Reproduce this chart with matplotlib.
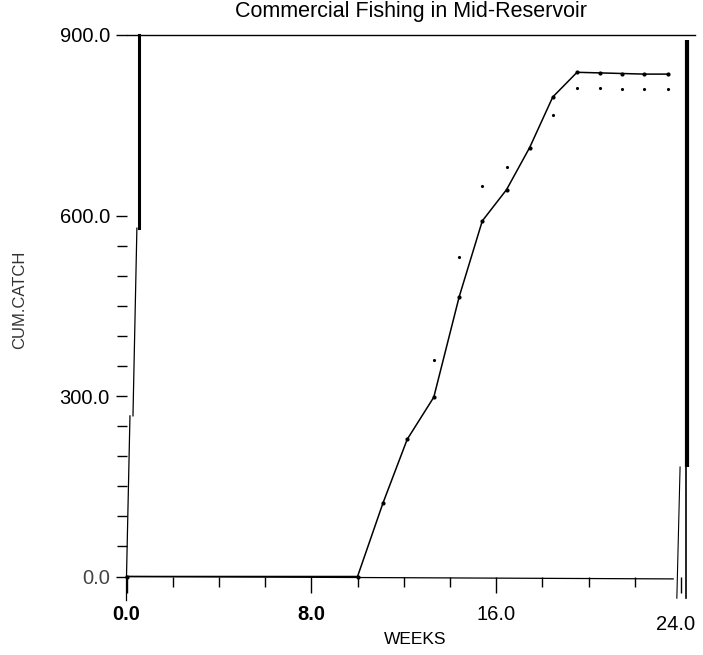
import numpy as np
import matplotlib
matplotlib.use("Agg")
import matplotlib.pyplot as plt
import matplotlib.transforms as mtransforms

plt.rcParams['font.family'] = ['Liberation Sans', 'DejaVu Sans']

# data
weeks_model = [0, 10.0, 11.1, 12.15, 13.3, 14.4, 15.4, 16.45, 17.45, 18.45, 19.5, 20.5, 21.45, 22.4, 23.45]
catch_model = [0, 0, 122, 228, 298, 465, 591, 643, 713, 797, 838, 837, 836, 835, 835]

weeks_obs = [13.3, 14.4, 15.4, 16.45, 17.45, 18.45, 19.5, 20.5, 21.45, 22.4, 23.45]
catch_obs = [360, 531, 649, 680, 713, 767, 812, 812, 811, 810, 810]

xticks_major = [0, 8, 16, 24]
xtick_labels = ['0.0', '8.0', '16.0', '24.0']
yticks_major = [0, 300, 600, 900]
ytick_labels = ['0.0', '300.0', '600.0', '900.0']

fig = plt.figure(figsize=(7.03, 6.55), dpi=100)
ax = fig.add_axes([126.5 / 703, 78.5 / 655, 554.5 / 703, 541.5 / 655])
ax.set_xlim(0, 24)
ax.set_ylim(0, 900)
for s in ax.spines.values():
    s.set_visible(False)

# the frame of the old plotter output is crooked, redraw it by hand
ax.plot([0, 23.66], [0, -4], color='black', lw=0.9, clip_on=False)
ax.plot([0, 24.6], [900, 900], color='black', lw=1.0, clip_on=False)
ax.plot([0.56, 0.56], [579, 900], color='black', lw=2.2, clip_on=False)
ax.plot([0.45, 0.28], [579, 267], color='black', lw=0.9, clip_on=False)
ax.plot([0.15, 0.0, 0.0], [267, 0, -40], color='black', lw=0.9, clip_on=False)
ax.plot([24.24, 24.24], [182, 892], color='black', lw=3.0, clip_on=False, solid_capstyle='butt')
ax.plot([24.2, 24.2], [-36, 182], color='black', lw=1.2, clip_on=False)
ax.plot([23.96, 23.82], [182, -36], color='black', lw=0.8, clip_on=False)

# series
ax.plot(weeks_model, catch_model, color='black', lw=1.1, marker='.', markersize=4, clip_on=False)
ax.plot(weeks_obs, catch_obs, linestyle='none', color='black', marker='.', markersize=2.5, clip_on=False)

# ticks
ax.set_xticks(xticks_major)
ax.set_xticks(np.arange(0, 25, 2), minor=True)
ax.set_xticklabels(xtick_labels)
ax.set_yticks(yticks_major)
ax.set_yticks(np.arange(0, 600, 50), minor=True)
ax.set_yticklabels(ytick_labels)
ax.tick_params(axis='x', which='major', length=11.5, width=1, direction='out', pad=9, labelsize=14.5)
ax.tick_params(axis='x', which='minor', length=7, width=1, direction='out')
ax.tick_params(axis='y', which='major', length=8, width=1, direction='out', pad=4, labelsize=14.5)
ax.tick_params(axis='y', which='minor', length=7, width=1, direction='out')
ax.tick_params(top=False, right=False)

xl = ax.get_xticklabels()
xl[0].set_fontweight('bold')
xl[1].set_fontweight('bold')
xl[3].set_transform(xl[3].get_transform() + mtransforms.ScaledTranslation(-5 / 100, -10 / 100, fig.dpi_scale_trans))
yl = ax.get_yticklabels()
yl[0].set_color('#444444')

fig.text(411 / 703, 1 - 12 / 655, 'Commercial Fishing in Mid-Reservoir', ha='center', va='center', fontsize=15.5)
fig.text(415 / 703, 1 - 640 / 655, 'WEEKS', ha='center', va='center', fontsize=12.5)
fig.text(20 / 703, 1 - 300 / 655, 'CUM.CATCH', ha='center', va='center', rotation=90, fontsize=12, color='#333333')

fig.savefig('out.png', dpi=100)
